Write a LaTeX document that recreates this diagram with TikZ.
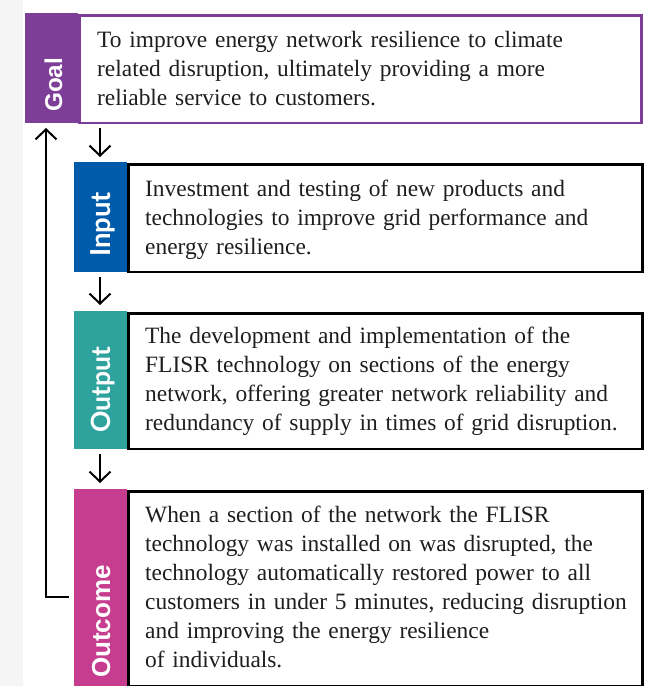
\documentclass[tikz,border=0pt]{standalone}
\usepackage{fontspec}
\setmainfont{Liberation Serif}
\newfontfamily\labelsans{Liberation Sans}
\newfontfamily\labelhuman{Lato}
\usetikzlibrary{arrows.meta}

\definecolor{goalc}{HTML}{7D3E98}
\definecolor{inputc}{HTML}{005BAA}
\definecolor{outputc}{HTML}{2EA39D}
\definecolor{outcomec}{HTML}{C63D8F}
\definecolor{inkc}{HTML}{1E1E1E}

\tikzset{
  strip/.style={fill=#1, draw=none, inner sep=0pt, anchor=north west},
  frame/.style={draw=#1, line width=2.6pt, inner sep=0pt, anchor=north west},
  body/.style={anchor=base west, inner sep=0pt, text width=520pt, align=left,
    text=inkc, font=\fontsize{23.4}{29}\selectfont},
  tag/.style={rotate=90, anchor=base west, inner sep=0pt, text=white},
  flow/.style={line width=2pt, -{Straight Barb[length=10pt,width=21pt,line width=2pt]}},
}

\begin{document}
\begin{tikzpicture}[x=1pt, y=-1pt]
  \useasboundingbox (0,0) rectangle (652,686);
  \fill[black!4] (0,0) rectangle (23,686);

  % Goal
  \node[strip=goalc, minimum width=53pt, minimum height=110pt] (goalstrip) at (25,13) {};
  \node[frame=goalc, minimum width=562pt, minimum height=107.4pt] (goalbox) at (78,14.3) {};
  \node[tag, font=\labelsans\bfseries\fontsize{24.3}{28}\selectfont] (goaltag) at (62,112) {Goal};
  \node[body] (goaltext) at (97,47) {To improve energy network resilience to climate\\
    related disruption, ultimately providing a more\\
    reliable service to customers.};

  % Input
  \node[strip=inputc, minimum width=53pt, minimum height=110pt] (inputstrip) at (74,162) {};
  \node[frame=black, minimum width=514.4pt, minimum height=107.4pt] (inputbox) at (127,163.3) {};
  \node[tag, font=\labelhuman\bfseries\fontsize{27.5}{30}\selectfont] (inputtag) at (110,257) {Input};
  \node[body] (inputtext) at (145,196) {Investment and testing of new products and\\
    technologies to improve grid performance and\\
    energy resilience.};

  % Output
  \node[strip=outputc, minimum width=53pt, minimum height=138pt] (outputstrip) at (74,311) {};
  \node[frame=black, minimum width=514.4pt, minimum height=135.4pt] (outputbox) at (127,312.3) {};
  \node[tag, font=\labelhuman\bfseries\fontsize{26.5}{30}\selectfont] (outputtag) at (110,433) {Output};
  \node[body] (outputtext) at (145,343) {The development and implementation of the\\
    FLISR technology on sections of the energy\\
    network, offering greater network reliability and\\
    redundancy of supply in times of grid disruption.};

  % Outcome
  \node[strip=outcomec, minimum width=53pt, minimum height=197pt] (outcomestrip) at (74,489) {};
  \node[frame=black, minimum width=514.4pt, minimum height=194.4pt] (outcomebox) at (127,490.3) {};
  \node[tag, font=\labelsans\bfseries\fontsize{26}{30}\selectfont] (outcometag) at (110,678) {Outcome};
  \node[body] (outcometext) at (145,522) {When a section of the network the FLISR\\
    technology was installed on was disrupted, the\\
    technology automatically restored power to all\\
    customers in under 5 minutes, reducing disruption\\
    and improving the energy resilience\\
    of individuals.};

  % forward arrows between stages
  \coordinate (a1s) at (100,128);
  \coordinate (a1e) at (100,157);
  \coordinate (a2s) at (100,277);
  \coordinate (a2e) at (100,305);
  \coordinate (a3s) at (100,454);
  \coordinate (a3e) at (100,483);
  \draw[flow] (a1s) -- (a1e);
  \draw[flow] (a2s) -- (a2e);
  \draw[flow] (a3s) -- (a3e);

  % feedback loop from outcome back to goal
  \coordinate (fbs) at (69,597);
  \coordinate (fbe) at (46,128);
  \draw[flow] (fbs) -| (fbe);
\end{tikzpicture}
\end{document}
